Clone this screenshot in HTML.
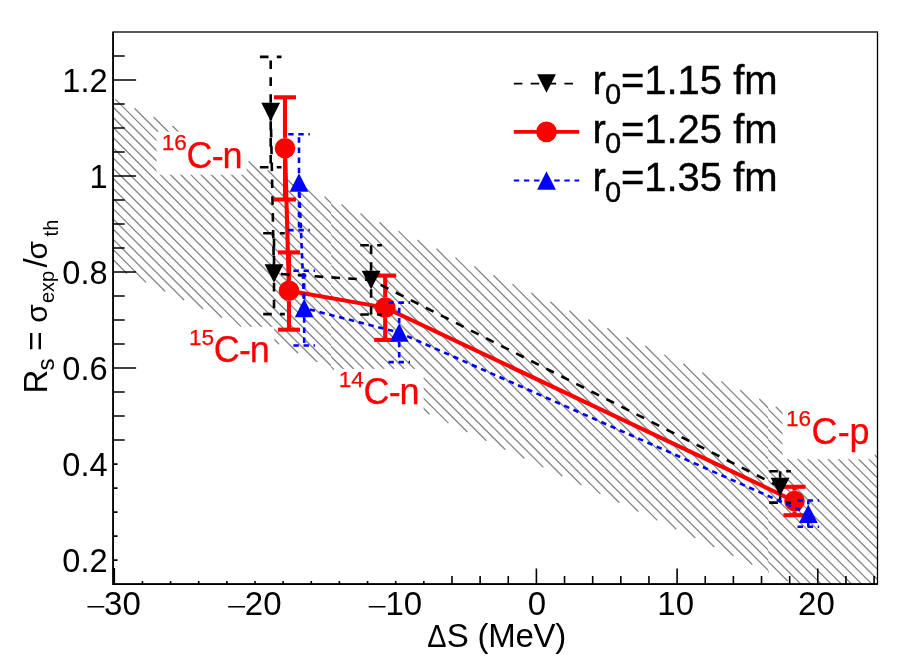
<!DOCTYPE html>
<html lang="en"><head><meta charset="utf-8"><title>Rs vs Delta S</title>
<style>html,body{margin:0;padding:0;background:#fff}svg{display:block}</style>
</head><body>
<svg width="921" height="666" viewBox="0 0 921 666">
<rect x="0" y="0" width="921" height="666" fill="#ffffff"/>
<defs>
<clipPath id="seg0"><rect x="113.10" y="32.00" width="218.00" height="552.10"/></clipPath>
<clipPath id="seg1"><rect x="331.10" y="32.00" width="437.10" height="552.10"/></clipPath>
<clipPath id="seg2"><rect x="768.20" y="32.00" width="109.30" height="552.10"/></clipPath>
</defs>
<path clip-path="url(#seg0)" d="M111.10 257.62L126.99 273.51M111.10 247.46L146.01 282.37M111.10 237.29L165.03 291.22M111.10 227.12L184.05 300.07M111.10 216.96L203.07 308.93M111.10 206.79L222.08 317.78M111.10 196.63L241.10 326.63M111.10 186.47L260.12 335.48M111.10 176.30L279.14 344.34M111.10 166.13L298.15 353.19M111.10 155.97L317.17 362.04M111.10 145.81L333.10 367.81M111.10 135.64L333.10 357.64M111.10 125.47L333.10 347.48M111.10 115.31L333.10 337.31M111.10 105.14L333.10 327.15M115.47 99.35L333.10 316.98M134.49 108.20L333.10 306.82M153.51 117.06L333.10 296.65M172.52 125.91L333.10 286.49M191.54 134.76L333.10 276.32M210.56 143.61L333.10 266.16M229.58 152.47L333.10 255.99M248.59 161.32L333.10 245.83M267.61 170.17L333.10 235.66M286.63 179.02L333.10 225.50M305.65 187.88L333.10 215.33M324.67 196.73L333.10 205.17" stroke="#868686" stroke-width="1.32" fill="none"/>
<path clip-path="url(#seg1)" d="M329.10 364.70L334.52 370.12M329.10 354.55L353.51 378.96M329.10 344.40L372.49 387.79M329.10 334.25L391.48 396.63M329.10 324.10L410.47 405.47M329.10 313.95L429.46 414.31M329.10 303.80L448.45 423.15M329.10 293.65L467.44 431.99M329.10 283.50L486.43 440.83M329.10 273.35L505.42 449.67M329.10 263.20L524.41 458.51M329.10 253.05L543.40 467.35M329.10 242.90L562.39 476.19M329.10 232.75L581.38 485.03M329.10 222.60L600.37 493.87M329.10 212.45L619.36 502.71M329.10 202.30L638.35 511.55M341.53 204.58L657.34 520.39M360.52 213.42L676.33 529.23M379.51 222.26L695.32 538.07M398.50 231.10L714.31 546.91M417.49 239.94L733.30 555.75M436.48 248.78L752.29 564.59M455.47 257.62L770.20 572.35M474.46 266.46L770.20 562.20M493.45 275.30L770.20 552.05M512.44 284.14L770.20 541.90M531.43 292.98L770.20 531.75M550.42 301.82L770.20 521.60M569.41 310.66L770.20 511.45M588.40 319.50L770.20 501.30M607.39 328.34L770.20 491.15M626.38 337.18L770.20 481.00M645.37 346.02L770.20 470.85M664.36 354.86L770.20 460.70M683.35 363.70L770.20 450.55M702.34 372.54L770.20 440.40M721.33 381.38L770.20 430.25M740.32 390.22L770.20 420.10M759.30 399.05L770.20 409.95" stroke="#868686" stroke-width="1.32" fill="none"/>
<path clip-path="url(#seg2)" d="M766.20 569.70L768.75 572.25M766.20 559.55L787.74 581.09M766.20 549.40L800.90 584.10M766.20 539.25L811.05 584.10M766.20 529.10L821.20 584.10M766.20 518.95L831.35 584.10M766.20 508.80L841.50 584.10M766.20 498.65L851.65 584.10M766.20 488.50L861.80 584.10M766.20 478.35L871.95 584.10M766.20 468.20L879.50 581.50M766.20 458.05L879.50 571.35M766.20 447.90L879.50 561.20M766.20 437.75L879.50 551.05M766.20 427.60L879.50 540.90M766.20 417.45L879.50 530.75M766.20 407.30L879.50 520.60M775.77 406.72L879.50 510.45M794.76 415.56L879.50 500.30M813.75 424.40L879.50 490.15M832.74 433.24L879.50 480.00M851.73 442.08L879.50 469.85M870.72 450.92L879.50 459.70" stroke="#868686" stroke-width="1.32" fill="none"/>
<rect x="156.5" y="131.7" width="90.0" height="43.0" fill="#ffffff"/>
<rect x="184.3" y="326.9" width="89.9" height="43.0" fill="#ffffff"/>
<rect x="334.1" y="368.9" width="89.5" height="43.0" fill="#ffffff"/>
<rect x="782.5" y="407.0" width="92.2" height="52.2" fill="#ffffff"/>
<rect x="113.10" y="32.00" width="764.40" height="552.10" fill="none" stroke="#000" stroke-width="1.3"/>
<path d="M113.10 32.00V584.10H877.50" fill="none" stroke="#000" stroke-width="1.7"/>
<path d="M113.10 560.10h4.40M113.10 536.09h4.40M113.10 512.09h4.40M113.10 488.08h4.40M113.10 464.08h4.40M113.10 440.07h11.60M113.10 416.07h11.60M113.10 392.06h11.60M113.10 368.06h23.00M113.10 344.05h11.60M113.10 320.05h11.60M113.10 296.04h11.60M113.10 272.04h23.00M113.10 248.03h11.60M113.10 224.02h11.60M113.10 200.02h11.60M113.10 176.01h23.00M113.10 152.01h11.60M113.10 128.00h11.60M113.10 104.00h11.60M113.10 80.00h23.00M113.10 55.99h11.60M114.30 584.10v-16.00M142.44 584.10v-3.00M170.58 584.10v-3.00M198.72 584.10v-3.00M226.86 584.10v-3.00M255.00 584.10v-3.00M283.14 584.10v-3.00M311.28 584.10v-3.00M339.42 584.10v-3.00M367.56 584.10v-3.00M395.70 584.10v-3.00M423.84 584.10v-3.00M451.98 584.10v-8.20M480.12 584.10v-8.20M508.26 584.10v-8.20M536.40 584.10v-15.50M564.54 584.10v-8.20M592.68 584.10v-8.20M620.82 584.10v-8.20M648.96 584.10v-8.20M677.10 584.10v-15.50M705.24 584.10v-8.20M733.38 584.10v-8.20M761.52 584.10v-8.20M789.66 584.10v-8.20M817.80 584.10v-15.50M845.94 584.10v-8.20M874.08 584.10v-8.20" fill="none" stroke="#000" stroke-width="1.6"/>
<g fill="none" stroke="#ff0000" stroke-width="4.10"><path d="M285.00 137.90V97.30"/><path d="M285.00 158.50V199.50"/><path d="M274.00 97.30H296.00"/><path d="M274.00 199.50H296.00"/><path d="M289.00 280.50V252.40"/><path d="M289.00 301.10V329.70"/><path d="M278.00 252.40H300.00"/><path d="M278.00 329.70H300.00"/><path d="M385.20 297.30V275.60"/><path d="M385.20 317.90V339.90"/><path d="M374.20 275.60H396.20"/><path d="M374.20 339.90H396.20"/><path d="M794.50 490.70V486.80"/><path d="M794.50 511.30V515.20"/><path d="M783.50 486.80H805.50"/><path d="M783.50 515.20H805.50"/><polyline points="285.00,148.20 289.00,290.80 385.20,307.60 794.50,501.00" stroke-dashoffset="0.00"/></g><g fill="#ff0000" stroke="none"><circle cx="285.00" cy="148.20" r="10.30"/><circle cx="289.00" cy="290.80" r="10.30"/><circle cx="385.20" cy="307.60" r="10.30"/><circle cx="794.50" cy="501.00" r="10.30"/></g>
<g fill="none" stroke="#000000" stroke-width="2.60" stroke-dasharray="8.58 8.28"><path d="M270.70 102.75V56.90"/><path d="M270.70 121.25V167.30"/><path d="M259.90 56.90H281.50"/><path d="M259.90 167.30H281.50"/><path d="M274.00 264.35V233.30"/><path d="M274.00 282.85V314.10"/><path d="M263.20 233.30H284.80"/><path d="M263.20 314.10H284.80"/><path d="M371.10 270.75V245.20"/><path d="M371.10 289.25V314.50"/><path d="M360.30 245.20H381.90"/><path d="M360.30 314.50H381.90"/><path d="M780.10 477.75V471.30"/><path d="M780.10 496.25V502.60"/><path d="M769.30 471.30H790.90"/><path d="M769.30 502.60H790.90"/><polyline points="270.70,112.00 274.00,273.60 371.10,280.00 780.10,487.00" stroke-dashoffset="0.00"/></g><g fill="#000000" stroke="none"><polygon points="261.30,102.75 280.10,102.75 270.70,121.25"/><polygon points="264.60,264.35 283.40,264.35 274.00,282.85"/><polygon points="361.70,270.75 380.50,270.75 371.10,289.25"/><polygon points="770.70,477.75 789.50,477.75 780.10,496.25"/></g>
<g fill="none" stroke="#0000ff" stroke-width="2.60" stroke-dasharray="5.45 4.66"><path d="M299.00 173.15V134.20"/><path d="M299.00 191.65V230.10"/><path d="M288.20 134.20H309.80"/><path d="M288.20 230.10H309.80"/><path d="M304.20 298.85V270.70"/><path d="M304.20 317.35V345.50"/><path d="M293.40 270.70H315.00"/><path d="M293.40 345.50H315.00"/><path d="M399.20 323.35V302.60"/><path d="M399.20 341.85V362.10"/><path d="M388.40 302.60H410.00"/><path d="M388.40 362.10H410.00"/><path d="M808.30 504.45V500.50"/><path d="M808.30 522.95V526.70"/><path d="M797.50 500.50H819.10"/><path d="M797.50 526.70H819.10"/><polyline points="299.00,182.40 304.20,308.10 399.20,332.60 808.30,513.70" stroke-dashoffset="0.00"/></g><g fill="#0000ff" stroke="none"><polygon points="289.60,191.65 308.40,191.65 299.00,173.15"/><polygon points="294.80,317.35 313.60,317.35 304.20,298.85"/><polygon points="389.80,341.85 408.60,341.85 399.20,323.35"/><polygon points="798.90,522.95 817.70,522.95 808.30,504.45"/></g>
<g font-family="'Liberation Sans', sans-serif" fill="#000">
<text x="107.6" y="91.9" font-size="32.6" text-anchor="end">1.2</text>
<text x="107.6" y="187.9" font-size="32.6" text-anchor="end">1</text>
<text x="107.6" y="283.9" font-size="32.6" text-anchor="end">0.8</text>
<text x="107.6" y="380.0" font-size="32.6" text-anchor="end">0.6</text>
<text x="107.6" y="476.0" font-size="32.6" text-anchor="end">0.4</text>
<text x="107.6" y="572.0" font-size="32.6" text-anchor="end">0.2</text>
<text transform="translate(85.7,613.8) scale(1.05,0.66)" font-size="33">−</text>
<text x="104.1" y="615.2" font-size="33">30</text>
<text transform="translate(226.4,613.8) scale(1.05,0.66)" font-size="33">−</text>
<text x="244.8" y="615.2" font-size="33">20</text>
<text transform="translate(367.1,613.8) scale(1.05,0.66)" font-size="33">−</text>
<text x="385.5" y="615.2" font-size="33">10</text>
<text x="536.9" y="615.2" font-size="33" text-anchor="middle">0</text>
<text x="675.7" y="615.2" font-size="33" text-anchor="middle">10</text>
<text x="816.4" y="615.2" font-size="33" text-anchor="middle">20</text>
<text transform="translate(446.5,646.6) scale(0.875,0.94)" font-size="33" text-anchor="end">Δ</text>
<text x="446.8" y="646.6" font-size="33" letter-spacing="-0.25">S (MeV)</text>
<text transform="translate(47.2,393.4) rotate(-90)" font-size="33"><tspan x="0">R</tspan><tspan x="22.9" font-size="24" dy="6.4">s</tspan><tspan x="42.7" font-size="33" dy="-6.4">=</tspan><tspan x="70.6" font-size="30">σ</tspan><tspan x="90.3" font-size="20" dy="7">exp</tspan><tspan x="125.8" font-size="33" dy="-7">/</tspan><tspan x="133.8" font-size="30">σ</tspan><tspan x="157" font-size="20" dy="10.4">th</tspan></text>
</g>
<path d="M513.8 83.6H579.2" stroke="#000000" stroke-width="1.9" fill="none" stroke-dasharray="8.58 8.28"/>
<g fill="#000000"><polygon points="537.10,74.35 555.90,74.35 546.50,92.85"/></g>
<text font-family="'Liberation Sans', sans-serif" x="592.6" y="93.5" font-size="40" fill="#000" stroke="#000" stroke-width="0.4">r<tspan x="604.9" font-size="29" dy="10.6">0</tspan><tspan x="620.9" dy="-10.6">=1.15 fm</tspan></text>
<path d="M513.8 131.9H579.2" stroke="#ff0000" stroke-width="3.6" fill="none"/>
<g fill="#ff0000"><circle cx="546.50" cy="131.90" r="10.30"/></g>
<text font-family="'Liberation Sans', sans-serif" x="592.6" y="142.7" font-size="40" fill="#000" stroke="#000" stroke-width="0.4">r<tspan x="604.9" font-size="29" dy="10.6">0</tspan><tspan x="620.9" dy="-10.6">=1.25 fm</tspan></text>
<path d="M513.8 180.5H579.2" stroke="#0000ff" stroke-width="2.1" fill="none" stroke-dasharray="5.45 4.66"/>
<g fill="#0000ff"><polygon points="537.10,189.75 555.90,189.75 546.50,171.25"/></g>
<text font-family="'Liberation Sans', sans-serif" x="592.6" y="191.2" font-size="40" fill="#000" stroke="#000" stroke-width="0.4">r<tspan x="604.9" font-size="29" dy="10.6">0</tspan><tspan x="620.9" dy="-10.6">=1.35 fm</tspan></text>
<text font-family="'Liberation Sans', sans-serif" y="167.9" font-size="36" fill="#ff0000" stroke="#ff0000" stroke-width="0.25"><tspan x="161.8" font-size="22.6" dy="-17.7">16</tspan><tspan x="186.5" dy="17.7">C</tspan><tspan dx="-0.65">-</tspan><tspan dx="-1.30">n</tspan></text>
<text font-family="'Liberation Sans', sans-serif" y="362.2" font-size="36" fill="#ff0000" stroke="#ff0000" stroke-width="0.25"><tspan x="189.0" font-size="22.6" dy="-17.7">15</tspan><tspan x="213.7" dy="17.7">C</tspan><tspan dx="-0.65">-</tspan><tspan dx="-1.30">n</tspan></text>
<text font-family="'Liberation Sans', sans-serif" y="404.2" font-size="36" fill="#ff0000" stroke="#ff0000" stroke-width="0.25"><tspan x="338.8" font-size="22.6" dy="-17.7">14</tspan><tspan x="363.5" dy="17.7">C</tspan><tspan dx="-0.65">-</tspan><tspan dx="-1.30">n</tspan></text>
<text font-family="'Liberation Sans', sans-serif" y="443.5" font-size="36" fill="#ff0000" stroke="#ff0000" stroke-width="0.25"><tspan x="785.9" font-size="22.6" dy="-17.7">16</tspan><tspan x="811.4" dy="17.7">C</tspan><tspan dx="0.40">-</tspan><tspan dx="-0.40">p</tspan></text>
</svg>
</body></html>
